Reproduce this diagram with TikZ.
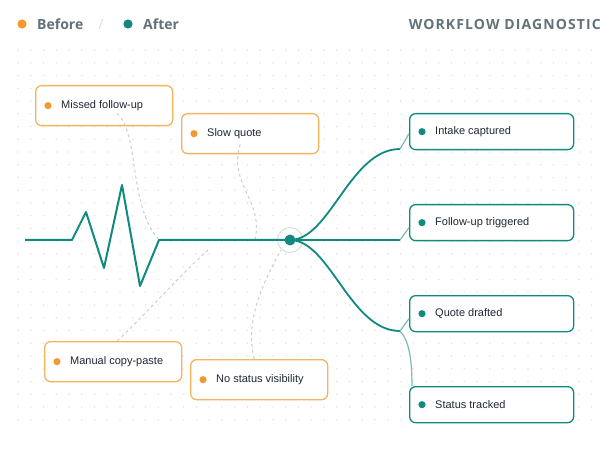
\documentclass[tikz,border=0pt]{standalone}
\usepackage{fontspec}
\setmainfont{Liberation Sans}
\newfontfamily\hdrfont{Open Sans}
\newfontfamily\hdrspaced{Open Sans}[LetterSpace=8]
\usetikzlibrary{calc}
\definecolor{teal}{RGB}{15,138,126}
\definecolor{lteal}{RGB}{120,190,180}
\definecolor{ringc}{RGB}{205,229,225}
\definecolor{odot}{RGB}{242,154,46}
\definecolor{ostroke}{RGB}{244,179,94}
\definecolor{gridc}{RGB}{226,230,232}
\definecolor{dashc}{RGB}{198,208,211}
\definecolor{hdrc}{RGB}{98,113,122}
\definecolor{slashc}{RGB}{214,221,224}
\definecolor{labc}{RGB}{30,40,52}
\tikzset{
  obox/.style={draw=ostroke, line width=1.3pt, fill=white, rounded corners=6pt,
    minimum width=137pt, minimum height=40pt, anchor=north west, inner sep=0pt},
  tbox/.style={draw=teal, line width=1.3pt, fill=white, rounded corners=6pt,
    minimum width=164pt, minimum height=36pt, anchor=north west, inner sep=0pt},
  lab/.style={anchor=west, inner sep=0pt, text=labc, font=\fontsize{11}{13}\selectfont},
  hdr/.style={inner sep=0pt, text=hdrc, font=\hdrfont\bfseries\fontsize{14}{16}\selectfont},
  dashline/.style={draw=dashc, line width=1pt, dash pattern=on 3pt off 3pt},
  mainline/.style={draw=teal, line width=2pt, line join=round},
  thin/.style={draw=lteal, line width=1.2pt},
}
\begin{document}
\begin{tikzpicture}[x=1pt, y=-1pt]
\useasboundingbox (0,0) rectangle (616,457);
\fill[white] (0,0) rectangle (616,457);
% grid
\foreach \i in {0,...,45}{
  \foreach \j in {0,...,29}{
    \fill[gridc] ({18+\i*12.75},{50+\j*12.75}) circle (0.9);
  }
}
% header
\fill[odot] (22,24) circle (4.6);
\node[hdr, anchor=west] (before) at (37,24) {Before};
\node[inner sep=0pt, text=slashc, font=\hdrfont\fontsize{14}{16}\selectfont] (slash) at (101,25) {/};
\fill[teal] (128,24) circle (4.6);
\node[hdr, anchor=west] (after) at (143,24) {After};
\node[inner sep=0pt, text=hdrc, anchor=east, font=\hdrspaced\bfseries\fontsize{14}{16}\selectfont] (title) at (601,24) {WORKFLOW DIAGNOSTIC};

% boxes (before)
\node[obox] (b1) at (35,85) {};
\node[obox] (b2) at (181,113) {};
\node[obox] (b3) at (44,341) {};
\node[obox] (b4) at (190,359) {};
% boxes (after)
\node[tbox] (a1) at (409,113) {};
\node[tbox] (a2) at (409,204) {};
\node[tbox] (a3) at (409,295) {};
\node[tbox] (a4) at (409,386) {};

\foreach \b/\t in {b1/Missed follow-up, b2/Slow quote, b3/Manual copy-paste, b4/No status visibility}{
  \fill[odot] ($(\b.west)+(13,0)$) circle (3.6);
  \node[lab] (\b-l) at ($(\b.west)+(26,0)$) {\t};
}
\foreach \b/\t in {a1/Intake captured, a2/Follow-up triggered, a3/Quote drafted, a4/Status tracked}{
  \fill[teal] ($(\b.west)+(13,0)$) circle (3.6);
  \node[lab] (\b-l) at ($(\b.west)+(26,0)$) {\t};
}

% key points
\coordinate (hub) at (290,240);
\coordinate (start) at (25,240);
\coordinate (j1) at (400,149);
\coordinate (j2) at (400,240);
\coordinate (j3) at (400,331);

% dashed connectors
\draw[dashline] ($(b1.south)+(13,-13)$) .. controls (140,135) and (128,205) .. (159,240);
\draw[dashline] ($(b2.south)+(-10,-10)$) .. controls (228,185) and (264,200) .. (255,240);
\draw[dashline] ($(b3.north)+(4,0)$) .. controls (150,310) and (180,275) .. (208,250);
\draw[dashline] ($(b4.north)+(-5,0)$) .. controls (245,320) and (262,285) .. (281,250);

% hub ring
\draw[ringc, line width=1pt, fill=white, fill opacity=0.3] (hub) circle (12.5);

% main zigzag
\draw[mainline] (start) -- (72,240) -- (86,212) -- (104,268) -- (122,185) -- (140,286) -- (159,240) -- (hub);

% branches
\draw[mainline, line width=1.8pt] (hub) .. controls (330,240) and (350,149) .. (j1);
\draw[mainline, line width=1.8pt] (hub) -- (j2);
\draw[mainline, line width=1.8pt] (hub) .. controls (330,240) and (350,331) .. (j3);
\draw[thin] (j1) -- ($(a1.west)+(0,2)$);
\draw[thin] (j2) -- ($(a2.west)+(0,5)$);
\draw[thin] (j3) -- ($(a3.west)+(0,5)$);
\draw[thin] (j3) .. controls (409,340) and (412,360) .. ($(a4.north west)+(3,0)$);

\fill[teal] (hub) circle (5.5);
\end{tikzpicture}
\end{document}
